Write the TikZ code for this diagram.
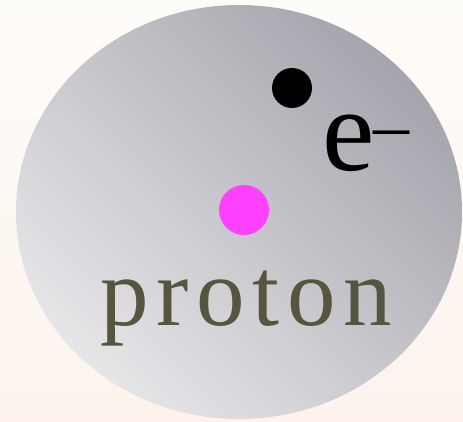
\documentclass[tikz,border=0pt]{standalone}
\usepackage{fontspec}
\setmainfont{Liberation Serif}
\definecolor{paper}{RGB}{254,252,249}
\definecolor{paperlow}{RGB}{253,243,236}
\definecolor{cloudlight}{RGB}{230,230,233}
\definecolor{clouddark}{RGB}{166,165,173}
\definecolor{protonpink}{RGB}{255,64,255}
\definecolor{protontext}{RGB}{87,85,61}
\tikzset{
  particle/.style={circle,inner sep=0pt},
  bigtext/.style={inner sep=0pt,anchor=base west}
}
\begin{document}
\begin{tikzpicture}[x=1pt,y=1pt]
  \useasboundingbox (0,0) rectangle (463,421);
  \shade[top color=paper,bottom color=paperlow] (0,0) rectangle (463,421);
  \begin{scope}
    \clip (0,0) rectangle (463,421);
    \shade[top color=clouddark,bottom color=cloudlight,shading angle=-45] (239,209) ellipse (223 and 207);
  \end{scope}
  \node[particle,fill=black,minimum size=40pt] (electron) at (292,333) {};
  \node[particle,fill=protonpink,minimum size=50pt] (proton) at (244,211) {};
  \node[bigtext] (elabel) at (322,251)
    {\fontsize{118}{118}\selectfont e\raisebox{21pt}{\fontsize{72}{72}\selectfont\kern-1pt –}};
  \node[bigtext,text=protontext] (plabel) at (100,96)
    {\fontsize{97}{97}\selectfont\addfontfeature{LetterSpace=8}proton};
\end{tikzpicture}
\end{document}
